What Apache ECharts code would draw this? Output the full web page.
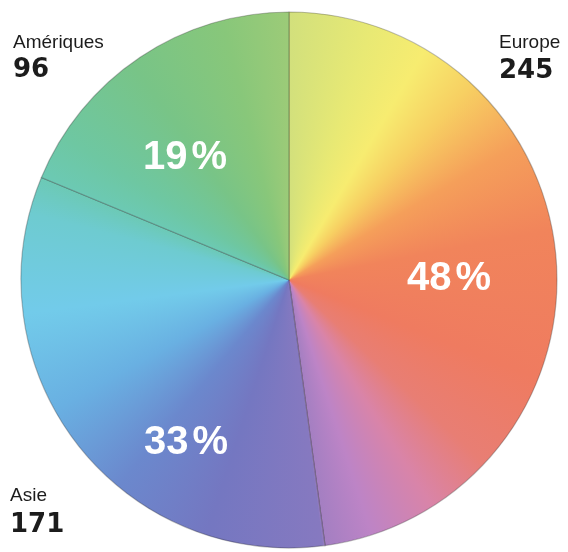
<!DOCTYPE html>
<html><head><meta charset="utf-8">
<script src="https://cdn.jsdelivr.net/npm/echarts@6/dist/echarts.min.js"></script>
<style>html,body{margin:0;padding:0;background:#ffffff}#c{width:568px;height:552px}</style>
</head><body><div id="c"></div>
<script>
// ---- data ----
const categories = ['Europe', 'Asie', 'Amériques'];
const values = [245, 171, 96];

// ---- layout / style ----
const CX = 289, CY = 280, R = 268;
const W = 568, H = 552;
// percentage label offsets from pie centre (px)
const pctOffsets = [[160, -1], [-103, 163], [-104, -122]];
// outer label positions: [x, nameCentreY, valueCentreY]
const outerPos = [[499, 45, 73], [10, 498, 527], [13, 45, 72]];
const hueStops = [
  [0.00, '#d2e07c'], [0.05, '#e8e974'], [0.085, '#f7ec70'], [0.12, '#f7cf62'],
  [0.165, '#f59f5a'], [0.22, '#f1845b'], [0.31, '#ef7b60'], [0.37, '#e87e74'],
  [0.41, '#d984a8'], [0.45, '#bd84c6'], [0.478, '#a47fc2'], [0.48, '#8679c0'],
  [0.55, '#7477c1'], [0.61, '#6b88cd'], [0.67, '#69b0e2'], [0.73, '#72cbea'],
  [0.79, '#6ecbd0'], [0.815, '#6cc9b2'], [0.84, '#6ec7a2'], [0.90, '#78c487'],
  [0.96, '#88c77a'], [1.00, '#9ccb78']
];

// conic gradient texture used as fill pattern
const tex = document.createElement('canvas');
tex.width = W; tex.height = H;
const ctx = tex.getContext('2d');
if (ctx.createConicGradient) {
  const g = ctx.createConicGradient(-Math.PI / 2, CX, CY);
  hueStops.forEach(s => g.addColorStop(s[0], s[1]));
  ctx.fillStyle = g;
  ctx.fillRect(0, 0, W, H);
} else {
  function lerpColor(t) {
    let i = 0;
    while (i < hueStops.length - 2 && hueStops[i + 1][0] < t) i++;
    const a = hueStops[i], b = hueStops[i + 1];
    const f = (t - a[0]) / (b[0] - a[0] || 1);
    const pa = parseInt(a[1].slice(1), 16), pb = parseInt(b[1].slice(1), 16);
    const c = [16, 8, 0].map(sh => Math.round(((pa >> sh) & 255) * (1 - f) + ((pb >> sh) & 255) * f));
    return 'rgb(' + c.join(',') + ')';
  }
  const N = 720;
  for (let k = 0; k < N; k++) {
    const a0 = -Math.PI / 2 + k / N * 2 * Math.PI, a1 = a0 + 2 * Math.PI / N + 0.004;
    ctx.beginPath(); ctx.moveTo(CX, CY); ctx.arc(CX, CY, R + 10, a0, a1); ctx.closePath();
    ctx.fillStyle = lerpColor((k + 0.5) / N); ctx.fill();
  }
}

const chart = echarts.init(document.getElementById('c'), null, { renderer: 'canvas' });

const graphics = [];
categories.forEach((name, i) => {
  const p = outerPos[i];
  graphics.push({
    type: 'text', left: p[0], top: p[1] - 12, silent: true,
    style: { text: name, font: '19px "Liberation Sans", Arial, sans-serif', fill: '#1c1c1c' }
  });
  graphics.push({
    type: 'text', left: p[0], top: p[2] - 15, silent: true,
    style: { text: String(values[i]), font: 'bold 26px "DejaVu Sans", sans-serif', fill: '#1c1c1c' }
  });
});

const pctFont = { color: '#ffffff', fontFamily: '"Liberation Sans", Arial, sans-serif', fontWeight: 'bold', fontSize: 40 };

chart.setOption({
  backgroundColor: '#ffffff',
  animation: false,
  graphic: graphics,
  series: [{
    type: 'pie',
    center: [CX, CY],
    radius: [0, R],
    startAngle: 90,
    clockwise: true,
    percentPrecision: 0,
    avoidLabelOverlap: false,
    silent: true,
    itemStyle: {
      borderColor: 'rgba(40,40,40,0.3)',
      borderWidth: 1.2
    },
    label: Object.assign({
      show: true,
      position: 'inside',
      formatter: '{n|{d}}{p|%}',
      rich: {
        n: Object.assign({}, pctFont),
        p: Object.assign({ padding: [0, 0, 0, 4] }, pctFont)
      }
    }, pctFont),
    labelLine: { show: false },
    labelLayout: function (p) {
      const o = pctOffsets[p.dataIndex];
      return { x: CX + o[0], y: CY + o[1], align: 'center', verticalAlign: 'middle' };
    },
    data: categories.map((n, i) => ({
      name: n, value: values[i],
      itemStyle: { color: { image: tex, repeat: 'no-repeat' } }
    }))
  }]
});
</script>
</body></html>
